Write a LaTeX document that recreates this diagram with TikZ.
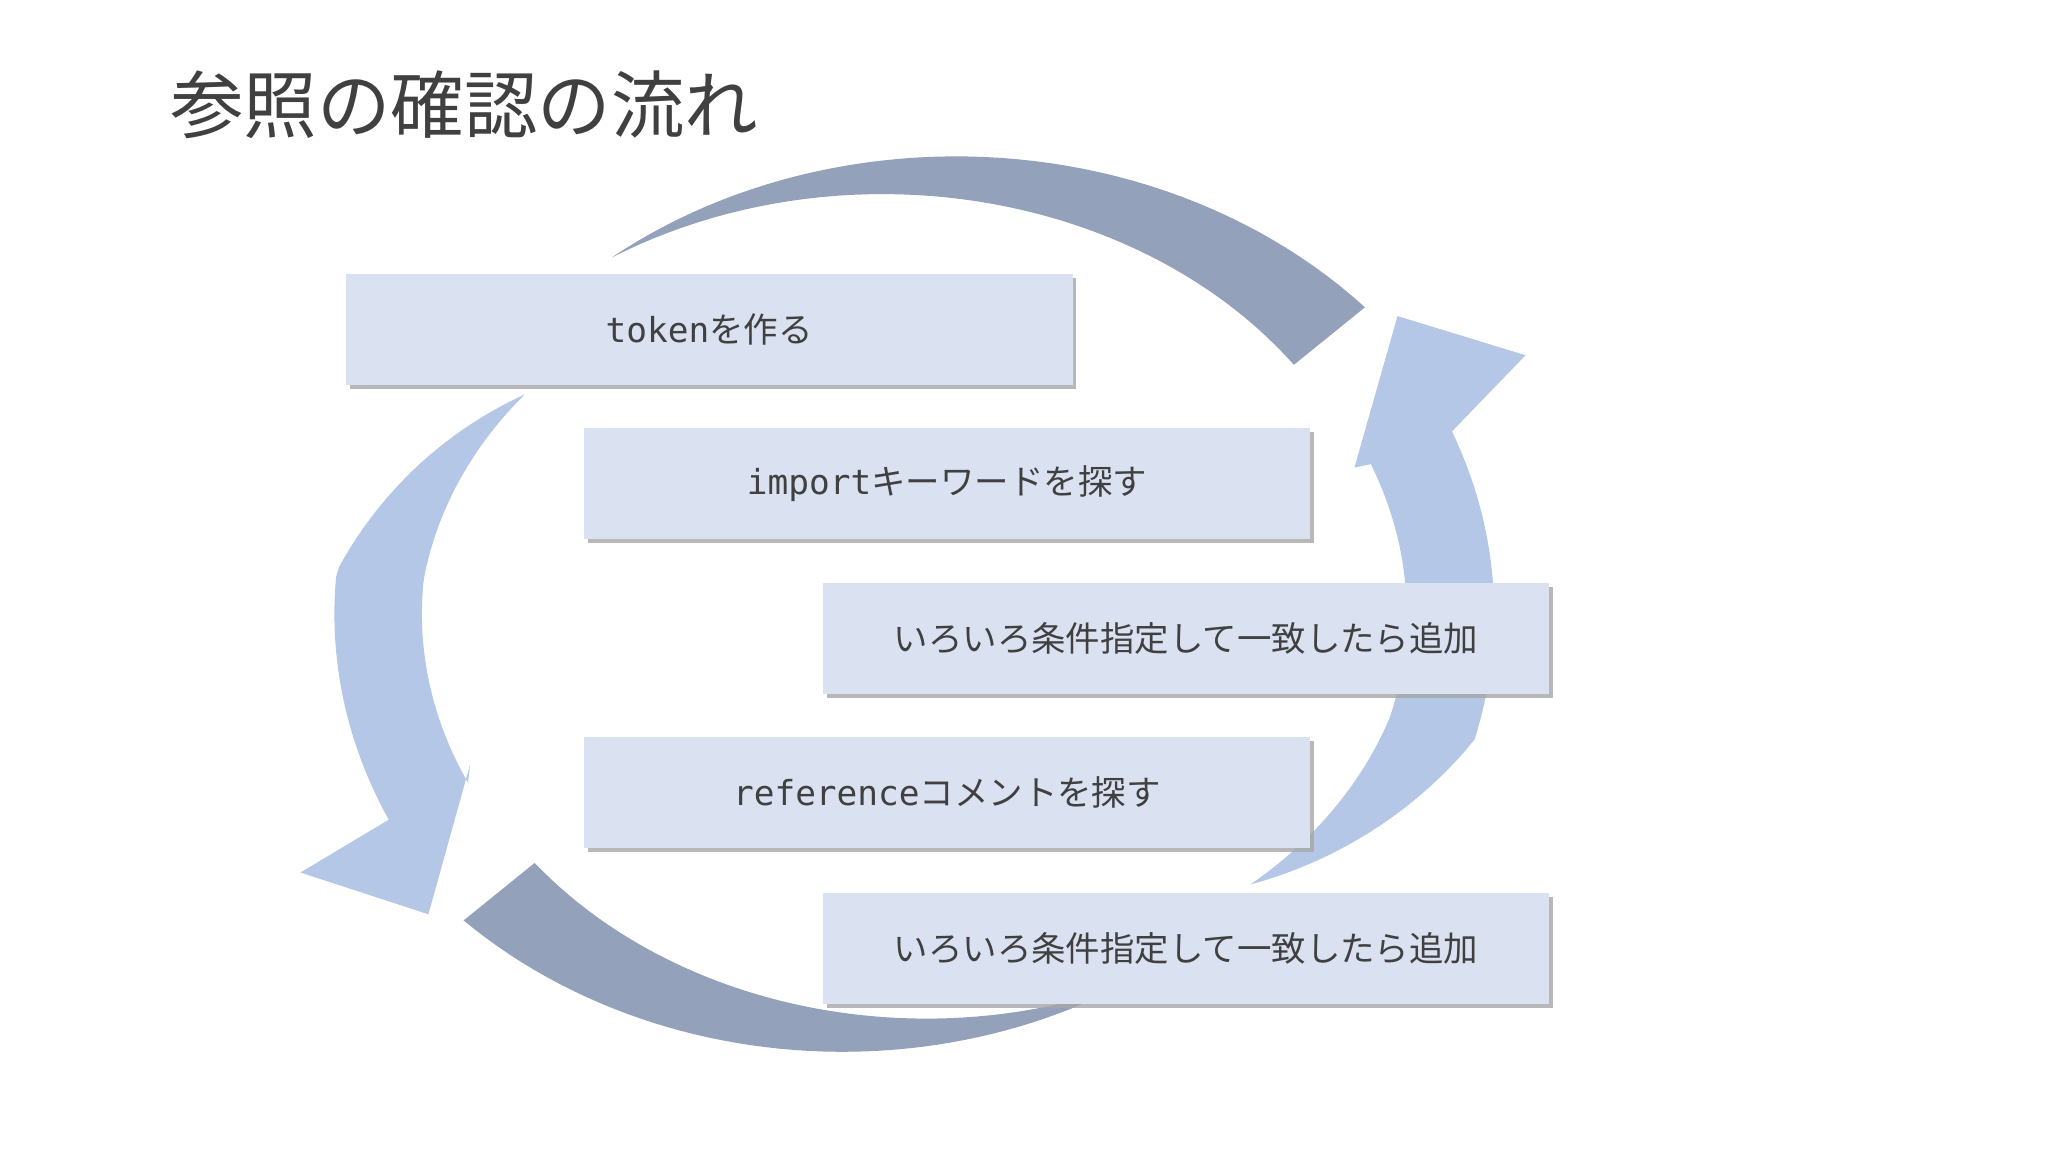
\documentclass[tikz,border=0pt]{standalone}
\usepackage{fontspec}
\setmainfont{Noto Sans CJK JP}
\setmonofont{DejaVu Sans Mono}
\usetikzlibrary{shadows}
\definecolor{boxfill}{HTML}{DAE2F1}
\definecolor{darkarc}{HTML}{94A1BA}
\definecolor{lightarc}{HTML}{B4C7E7}
\definecolor{textgray}{HTML}{404040}

\begin{document}
\begin{tikzpicture}[
    x=0.01cm, y=-0.01cm,
    stepbox/.style={rectangle, fill=boxfill, minimum width=5.56cm, minimum height=0.85cm,
      inner sep=0pt, align=center, font=\fontsize{7.5}{9}\selectfont, text=textgray,
      drop shadow={shadow xshift=0.03cm, shadow yshift=-0.03cm, fill=black!35, opacity=0.8}},
    dark/.style={fill=darkarc},
    light/.style={fill=lightarc}
]
\useasboundingbox (0,0) rectangle (1568,882);

% Title
\node[anchor=west, font=\fontsize{16}{18}\selectfont, text=textgray] (title) at (118,80) {参照の確認の流れ};

% Top arc (dark)
\fill[dark] plot[domain=125:39,samples=50] ({700+(444-40*(\x-39)/86)*cos(\x)},{470-(373-40*(\x-39)/86)*sin(\x)})
  -- plot[domain=39:125,samples=50] ({700+(444-40*(\x-39)/86-70*(125-\x)/86)*cos(\x)},{470-(373-40*(\x-39)/86-70*(125-\x)/86)*sin(\x)}) -- cycle;

% Bottom arc (dark)
\fill[dark] plot[domain=-141:-66,samples=50] ({700+(444-60*(\x+141)/75)*cos(\x)},{470-(373-60*(\x+141)/75)*sin(\x)})
  -- plot[domain=-66:-141,samples=50] ({700+(444-60*(\x+141)/75-70*(-66-\x)/75)*cos(\x)},{470-(373-60*(\x+141)/75-70*(-66-\x)/75)*sin(\x)}) -- cycle;

% Left arc (light) with head
\fill[light] plot[domain=145:205,samples=50] ({700+(444-max(0,80*(175-\x)/30))*cos(\x)},{470-(373-max(0,80*(175-\x)/30))*sin(\x)})
  -- (230,668) -- (328,700) -- (360,585)
  -- plot[domain=205:145,samples=50] ({700+(444-max(0,80*(175-\x)/30)-min(67,67*(\x-145)/30))*cos(\x)},{470-(373-max(0,80*(175-\x)/30)-min(67,67*(\x-145)/30))*sin(\x)}) -- cycle;

% Right arc (light) with head
\fill[light] plot[domain=-45:22,samples=50] ({700+(444-max(0,80*(-15-\x)/30))*cos(\x)},{470-(373-max(0,80*(-15-\x)/30))*sin(\x)})
  -- (1168,272) -- (1070,242) -- (1037,358)
  -- plot[domain=22:-45,samples=50] ({700+(444-max(0,80*(-15-\x)/30)-min(67,67*(\x+45)/30))*cos(\x)},{470-(373-max(0,80*(-15-\x)/30)-min(67,67*(\x+45)/30))*sin(\x)}) -- cycle;

% Steps
\node[stepbox] (token) at (543,252) {\texttt{token}を作る};
\node[stepbox] (import) at (725,370) {\texttt{import}キーワードを探す};
\node[stepbox] (cond1) at (908,489) {いろいろ条件指定して一致したら追加};
\node[stepbox] (reference) at (725,607) {\texttt{reference}コメントを探す};
\node[stepbox] (cond2) at (908,726) {いろいろ条件指定して一致したら追加};

\end{tikzpicture}
\end{document}
